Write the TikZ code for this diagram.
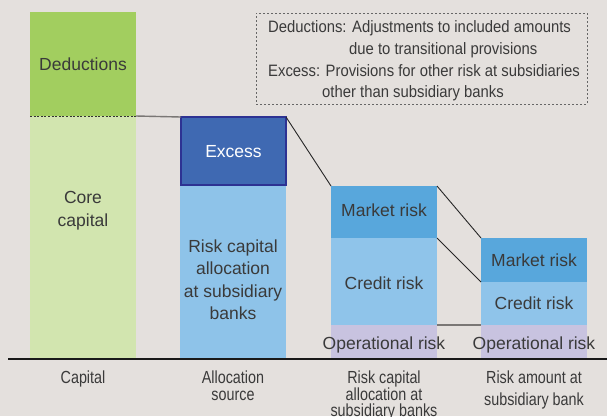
\documentclass[tikz,border=0pt]{standalone}
\usepackage{fontspec}
\setmainfont{Liberation Sans}
\newfontfamily\condfont[FakeStretch=0.82]{Liberation Sans}
\newfontfamily\legfont[FakeStretch=0.9]{Liberation Sans}
\definecolor{bgc}{HTML}{E4E0DD}
\definecolor{dedc}{HTML}{A2CE5F}
\definecolor{corec}{HTML}{D2E5AF}
\definecolor{lblue}{HTML}{8EC3E9}
\definecolor{excc}{HTML}{3F69B2}
\definecolor{excb}{HTML}{2D3293}
\definecolor{mktc}{HTML}{58A7DC}
\definecolor{crdc}{HTML}{8FC4EA}
\definecolor{opc}{HTML}{C8C3E0}
\definecolor{txtc}{HTML}{3A3A3A}
\definecolor{grayln}{HTML}{7A7775}
\begin{document}
\begin{tikzpicture}[x=1pt,y=-1pt,
  bar/.style={draw=none,rectangle,inner sep=0pt,outer sep=0pt},
  bartxt/.style={inner sep=0pt,text=txtc,font=\fontsize{17.5}{22.5}\selectfont,align=center},
  axtxt/.style={inner sep=0pt,anchor=north,text=txtc,align=center},
  legtxt/.style={inner sep=0pt,anchor=base west,text=txtc,font=\legfont\fontsize{16.5}{20}\selectfont},
  link/.style={draw=black!85,line width=0.9pt},
  graylink/.style={draw=grayln,line width=1.6pt}]
\fill[bgc] (0,0) rectangle (607,416);
\useasboundingbox (0,0) rectangle (607,416);
% column 1
\node[bar,fill=dedc,minimum width=106pt,minimum height=104pt] (ded) at (83,64) {};
\node[bar,fill=corec,minimum width=106pt,minimum height=243pt] (core) at (83,237.5) {};
% column 2
\node[bar,fill=lblue,minimum width=106pt,minimum height=173pt] (rcab) at (233,272.5) {};
\node[bar,fill=excc,draw=excb,line width=2pt,minimum width=105pt,minimum height=68pt] (exc) at (233.5,151) {};
% column 3
\node[bar,fill=mktc,minimum width=106pt,minimum height=52pt] (mr3) at (384,212) {};
\node[bar,fill=crdc,minimum width=106pt,minimum height=87pt] (cr3) at (384,281.5) {};
\node[bar,fill=opc,minimum width=106pt,minimum height=34pt] (op3) at (384,342) {};
% column 4
\node[bar,fill=mktc,minimum width=106pt,minimum height=44pt] (mr4) at (534,260) {};
\node[bar,fill=crdc,minimum width=106pt,minimum height=43pt] (cr4) at (534,303.5) {};
\node[bar,fill=opc,minimum width=106pt,minimum height=34pt] (op4) at (534,342) {};
% texts in bars
\node[bartxt] (tded) at (83,64) {Deductions};
\node[bartxt,font=\fontsize{17.5}{23}\selectfont] (tcore) at (83,211) {Core\\capital};
\node[bartxt,text=white] (texc) at (233.5,152) {Excess};
\node[bartxt] (trcab) at (233,279.5) {Risk capital\\allocation\\at subsidiary\\banks};
\node[bartxt] (tmr3) at (384,210) {Market risk};
\node[bartxt] (tcr3) at (384,283) {Credit risk};
\node[bartxt] (top3) at (384,345) {Operational risk};
\node[bartxt] (tmr4) at (534,260) {Market risk};
\node[bartxt] (tcr4) at (534,303) {Credit risk};
\node[bartxt] (top4) at (534,345) {Operational risk};
% connectors
\draw[draw=black!80,line width=0.8pt,dash pattern=on 2pt off 1.6pt] (core.north west) -- (core.north east);
\draw[graylink,line width=1.4pt] (core.north east) -- (exc.north west);
\draw[link] (exc.north east) -- (mr3.north west);
\draw[link] (mr3.north east) -- (mr4.north west);
\draw[link] (mr3.south east) -- (cr4.north west);
\draw[graylink] (cr3.south east) -- (op4.north west);
% axis
\coordinate (axL) at (8,359);
\coordinate (axR) at (607,359);
\draw[draw=black!90,line width=2.4pt] (axL) -- (axR);
% axis labels
\node[axtxt,font=\condfont\fontsize{17.5}{17}\selectfont] (l1) at (83,371) {Capital};
\node[axtxt,font=\condfont\fontsize{17.5}{17}\selectfont] (l2) at (233,371) {Allocation\\source};
\node[axtxt,font=\condfont\fontsize{17.5}{16.5}\selectfont] (l3) at (384,371) {Risk capital\\allocation at\\subsidiary banks};
\node[axtxt,font=\condfont\fontsize{17.5}{21.5}\selectfont] (l4) at (534,371) {Risk amount at\\subsidiary bank};
% legend
\node[draw=black!60,line width=0.9pt,dash pattern=on 2pt off 2pt,rectangle,inner sep=0pt,minimum width=331pt,minimum height=91pt] (leg) at (421.5,58.5) {};
\node[legtxt] (lg1) at (268,32) {Deductions: Adjustments to included amounts};
\node[legtxt] (lg2) at (349,54) {due to transitional provisions};
\node[legtxt] (lg3) at (268,76) {Excess: Provisions for other risk at subsidiaries};
\node[legtxt] (lg4) at (322,97) {other than subsidiary banks};
\end{tikzpicture}
\end{document}
